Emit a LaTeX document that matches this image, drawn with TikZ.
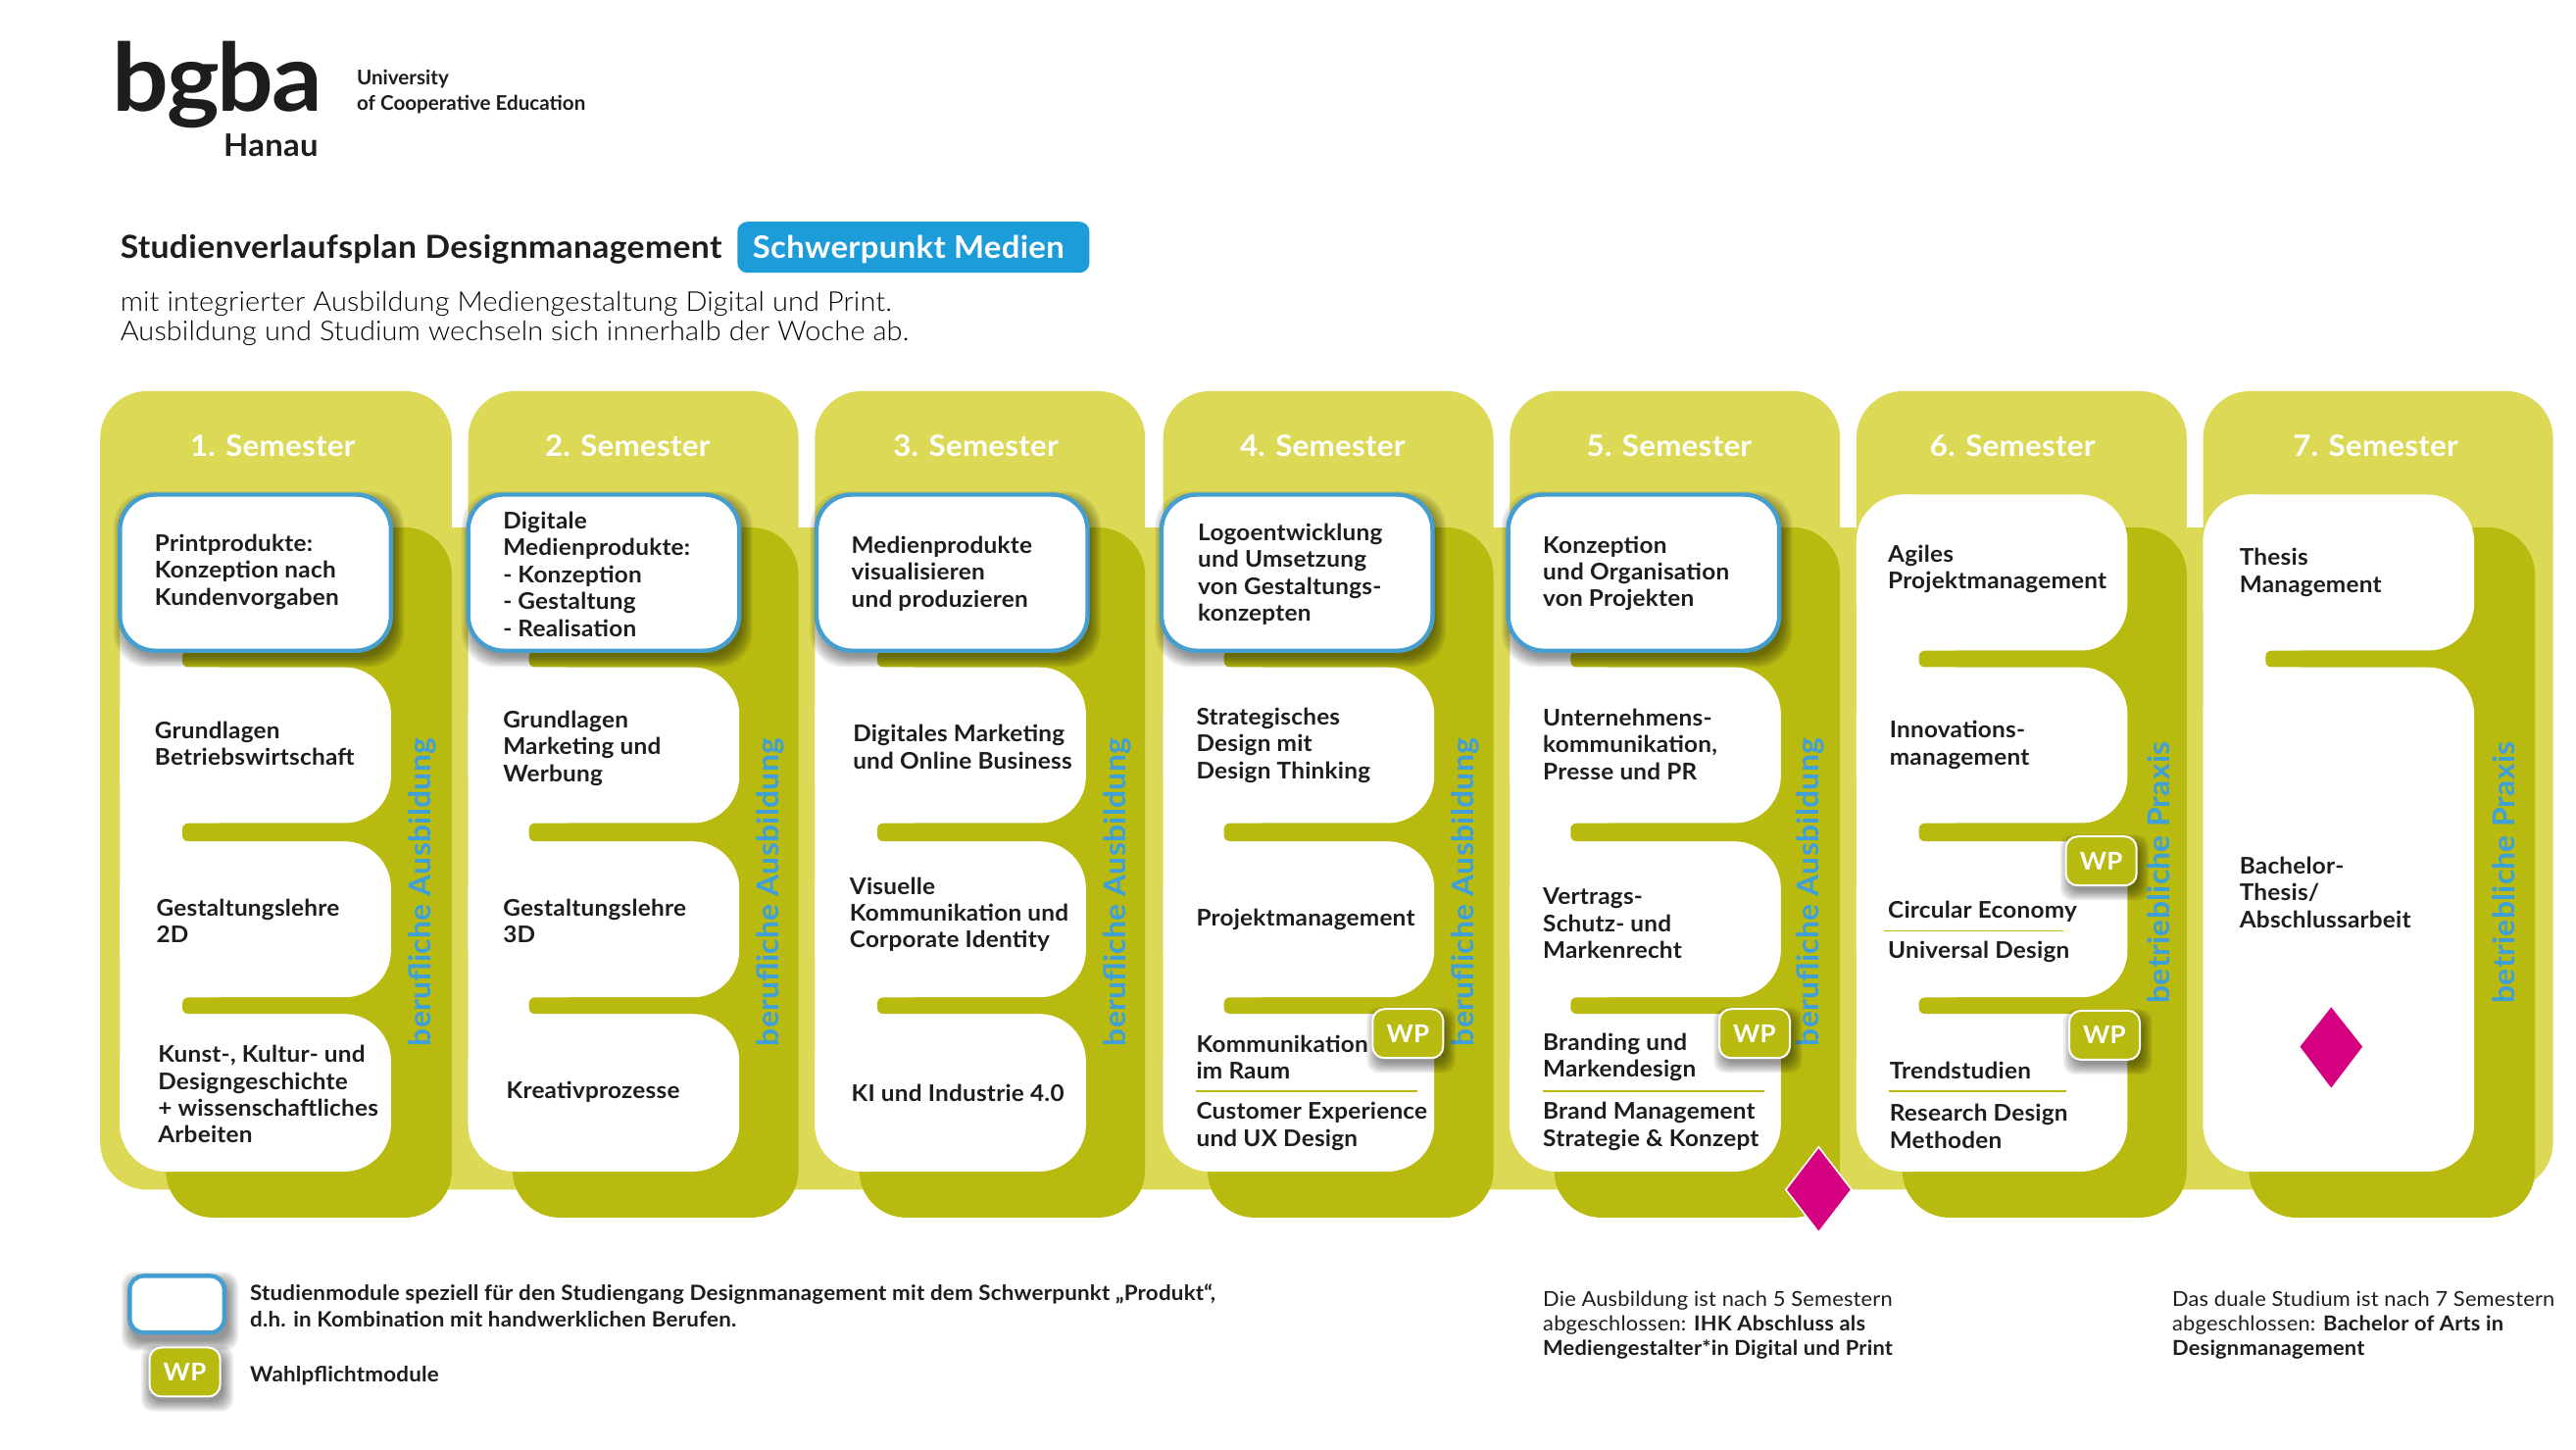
\documentclass[tikz,border=0pt]{standalone}
\usepackage{fontspec}
\setmainfont{Lato}
\newfontfamily\fmed{Lato}[BoldFont={Lato Bold},LetterSpace=1.0,FakeStretch=1.04]
\newfontfamily\flight{Lato Light}[LetterSpace=0.5,FakeStretch=1.04]
\definecolor{lightol}{HTML}{DBD955}
\definecolor{darkol}{HTML}{B9BA10}
\definecolor{blueline}{HTML}{449FD0}
\definecolor{bluetxt}{HTML}{3F9FD9}
\definecolor{pill}{HTML}{1C9DD9}
\definecolor{magen}{HTML}{D5007F}
\definecolor{ink}{HTML}{1D1D1B}
\tikzset{
  x=0.838pt,y=-0.838pt,
  modtext/.style={anchor=west,inner sep=0pt,align=left,text=ink,yshift=-0.4pt,font=\fmed\bfseries\fontsize{11.7}{13.7}\selectfont},
  legtext/.style={anchor=west,inner sep=0pt,align=left,text=ink,yshift=-0.5pt,font=\fmed\bfseries\fontsize{10.75}{13.3}\selectfont},
  notetext/.style={anchor=west,inner sep=0pt,align=left,text=ink,yshift=-1.2pt,font=\fmed\fontsize{10.5}{12.5}\selectfont},
  semtitle/.style={inner sep=0pt,text=white,font=\fmed\bfseries\fontsize{15}{16}\selectfont},
  sidetext/.style={inner sep=0pt,rotate=90,text=bluetxt,font=\fmed\bfseries\fontsize{15.3}{16}\selectfont},
  wpbadge/.style={draw=white,line width=1pt,fill=darkol,rounded corners=6pt,text=white,font=\fmed\bfseries\fontsize{12.5}{12}\selectfont,inner sep=0pt,minimum width=36pt,minimum height=25pt},
  bluebox/.style={fill=white,draw=blueline,line width=2.2pt,rounded corners=18pt},
  diamondm/.style={fill=magen},
  rulel/.style={draw=darkol,line width=0.8pt},
}
\newcommand{\softshadow}[5]{%
  \foreach \e in {6,5,4,3,2,1,0}{%
    \fill[black,opacity=0.07,rounded corners=#5] (#1-\e+2,#2-\e+4) rectangle (#3+\e+2,#4+\e+4);
  }}
\begin{document}
\begin{tikzpicture}
\useasboundingbox (0,0) rectangle (1568,882);
\fill[white] (0,0) rectangle (1568,882);
% logo
\node[inner sep=0pt,anchor=base west,text=ink,font=\bfseries\fontsize{48}{48}\selectfont,xscale=1.06] (logo) at (68,67.6) {\addfontfeature{LetterSpace=-2}bgba};
\node[inner sep=0pt,anchor=base east,text=ink,font=\fmed\bfseries\fontsize{15.8}{16}\selectfont] (hanau) at (194,95) {Hanau};
\node[inner sep=0pt,anchor=west,align=left,text=ink,font=\fontsize{10.3}{12.8}\selectfont\bfseries] (univ) at (217,56) {University\\of Cooperative Education};
% header
\node[inner sep=0pt,anchor=west,text=ink,font=\fmed\bfseries\fontsize{16.2}{18}\selectfont] (title) at (73,152) {Studienverlaufsplan Designmanagement};
\node[inner sep=0pt,fill=pill,rounded corners=5pt,minimum width=179.5pt,minimum height=26pt] (pillnode) at (556,150.5) {};
\node[inner sep=0pt,text=white,font=\fmed\bfseries\fontsize{15.8}{18}\selectfont] (pilltext) at (553,152) {Schwerpunkt Medien};
\node[inner sep=0pt,anchor=west,align=left,text=black,font=\flight\fontsize{13.9}{15.2}\selectfont] (sub) at (73,194) {mit integrierter Ausbildung Mediengestaltung Digital und Print.\\Ausbildung und Studium wechseln sich innerhalb der Woche ab.};
% light band and tabs
\begin{scope}
\clip (0,321) rectangle (1568,882);
\fill[lightol,rounded corners=24pt] (61,260) rectangle (1554,724);
\end{scope}
\foreach \a/\b in {61/275,285/486,496/697,708/909,919/1120,1130/1331,1341/1554}{
  \begin{scope}
  \clip (0,200) rectangle (1568,322);
  \fill[lightol,rounded corners=24pt] (\a,238) rectangle (\b,400);
  \end{scope}
}
% dark panels, cards, bars
\foreach \pl/\pr/\cl/\bl in {101/275/73/111,312/486/285/322,523/697/496/534,735/909/708/745,946/1120/919/956}{
  \fill[darkol,rounded corners=24pt] (\pl,321) rectangle (\pr,741);
  \pgfmathsetmacro{\cr}{\cl+165}
  \foreach \t/\u in {301/396,406/501,512/607,617/713}{
    \fill[white,rounded corners=24pt] (\cl,\t) rectangle (\cr,\u);
  }
  \fill[white,rounded corners=24pt] (\cl,301) rectangle (\cl+60,713);
  \foreach \t/\u in {396/406,501/512,607/617}{
    \fill[darkol,rounded corners=3pt] (\bl,\t) rectangle (\cr+8,\u);
  }
}
\fill[darkol,rounded corners=24pt] (1158,321) rectangle (1331,741);
\foreach \t/\u in {301/396,406/501,512/607,617/713}{
  \fill[white,rounded corners=24pt] (1130,\t) rectangle (1295,\u);
}
\fill[white,rounded corners=24pt] (1130,301) rectangle (1190,713);
\foreach \t/\u in {396/406,501/512,607/617}{
  \fill[darkol,rounded corners=3pt] (1168,\t) rectangle (1303,\u);
}
\fill[darkol,rounded corners=24pt] (1369,321) rectangle (1543,741);
\fill[white,rounded corners=24pt] (1341,301) rectangle (1506,396);
\fill[white,rounded corners=24pt] (1341,406) rectangle (1506,713);
\fill[white,rounded corners=24pt] (1341,301) rectangle (1400,713);
\fill[darkol,rounded corners=3pt] (1379,396) rectangle (1514,406);
% blue cards
\foreach \n/\cl in {1/73,2/285,3/497,4/707,5/918}{
  \pgfmathsetmacro{\cr}{\cl+165}
  \softshadow{\cl}{301}{\cr}{396}{18pt}
  \fill[bluebox] (\cl,301) rectangle (\cr,396);
}
% titles
\node[semtitle] (s1) at (166,271) {1. Semester};
\node[semtitle] (s2) at (382,271) {2. Semester};
\node[semtitle] (s3) at (594,271) {3. Semester};
\node[semtitle] (s4) at (805,271) {4. Semester};
\node[semtitle] (s5) at (1016,271) {5. Semester};
\node[semtitle] (s6) at (1225,271) {6. Semester};
\node[semtitle] (s7) at (1446,271) {7. Semester};
% side labels
\node[sidetext] (v1) at (257,543) {berufliche Ausbildung};
\node[sidetext] (v2) at (469,543) {berufliche Ausbildung};
\node[sidetext] (v3) at (680,543) {berufliche Ausbildung};
\node[sidetext] (v4) at (892,543) {berufliche Ausbildung};
\node[sidetext] (v5) at (1102,543) {berufliche Ausbildung};
\node[sidetext] (v6) at (1314,531) {betriebliche Praxis};
\node[sidetext] (v7) at (1524,531) {betriebliche Praxis};
% module texts
\node[modtext] (a1) at (94,347.5) {Printprodukte:\\Konzeption nach\\Kundenvorgaben};
\node[modtext] (a2) at (94,452) {Grundlagen\\Betriebswirtschaft};
\node[modtext] (a3) at (95,560) {Gestaltungslehre\\2D};
\node[modtext] (a4) at (96,665.5) {Kunst-, Kultur- und\\Designgeschichte\\+ wissenschaftliches\\Arbeiten};
\node[modtext] (b1) at (306,349) {Digitale\\Medienprodukte:\\- Konzeption\\- Gestaltung\\- Realisation};
\node[modtext] (b2) at (306,455) {Grundlagen\\Marketing und\\Werbung};
\node[modtext] (b3) at (306,560) {Gestaltungslehre\\3D};
\node[modtext] (b4) at (308,664) {Kreativprozesse};
\node[modtext] (c1) at (518,348.5) {Medienprodukte\\visualisieren\\und produzieren};
\node[modtext] (c2) at (519,454) {Digitales Marketing\\und Online Business};
\node[modtext] (c3) at (517,556) {Visuelle\\Kommunikation und\\Corporate Identity};
\node[modtext] (c4) at (518,665) {KI und Industrie 4.0};
\node[modtext] (d1) at (729,349) {Logoentwicklung\\und Umsetzung\\von Gestaltungs-\\konzepten};
\node[modtext] (d2) at (728,453) {Strategisches\\Design mit\\Design Thinking};
\node[modtext] (d3) at (728,559) {Projektmanagement};
\node[modtext] (d4) at (728,643) {Kommunikation\\im Raum};
\node[modtext] (d5) at (728,685) {Customer Experience\\und UX Design};
\draw[rulel] (728,664) -- (863,664);
\node[modtext] (e1) at (939,348.5) {Konzeption\\und Organisation\\von Projekten};
\node[modtext] (e2) at (939,452.5) {Unternehmens-\\kommunikation,\\Presse und PR};
\node[modtext] (e3) at (939,561.5) {Vertrags-\\Schutz- und\\Markenrecht};
\node[modtext] (e4) at (939,643) {Branding und\\Markendesign};
\node[modtext] (e5) at (939,685) {Brand Management\\Strategie \& Konzept};
\draw[rulel] (939,664) -- (1074,664);
\node[modtext] (f1) at (1149,346) {Agiles\\Projektmanagement};
\node[modtext] (f2) at (1150,453) {Innovations-\\management};
\node[modtext] (f3) at (1149,554) {Circular Economy};
\node[modtext] (f4) at (1149,579) {Universal Design};
\draw[rulel] (1147,566.5) -- (1256,566.5);
\node[modtext] (f5) at (1150,651) {Trendstudien};
\node[modtext] (f6) at (1150,685) {Research Design\\Methoden};
\draw[rulel] (1150,664) -- (1258,664);
\node[modtext] (g1) at (1363,348) {Thesis\\Management};
\node[modtext] (g2) at (1363,542.5) {Bachelor-\\Thesis/\\Abschlussarbeit};
% WP badges
\foreach \n/\x/\y in {1/857/629,2/1068/629,3/1279/524,4/1281/630}{
  \softshadow{\x-21}{\y-14}{\x+21}{\y+14}{6pt}
  \node[wpbadge] (wp\n) at (\x,\y) {WP};
}
% diamonds
\fill[diamondm,draw=white,line width=0.8pt] (1107,698) -- (1127,724) -- (1107,750) -- (1087,724) -- cycle;
\fill[diamondm] (1419,613) -- (1438,637) -- (1419,662) -- (1400,637) -- cycle;
% legend
\softshadow{78}{776}{137}{812}{7pt}
\fill[white,draw=blueline,line width=2.2pt,rounded corners=7pt] (79,776.5) rectangle (136.5,811);
\softshadow{90}{821}{134}{849}{6pt}
\node[wpbadge] (wpl) at (112.5,835) {WP};
\node[legtext] (l1) at (152,794) {Studienmodule speziell für den Studiengang Designmanagement mit dem Schwerpunkt „Produkt“,\\d.h. in Kombination mit handwerklichen Berufen.};
\node[legtext] (l2) at (152,836.5) {Wahlpflichtmodule};
\node[notetext] (n1) at (939,805) {Die Ausbildung ist nach 5 Semestern\\abgeschlossen: {\bfseries IHK Abschluss als}\\{\bfseries Mediengestalter*in Digital und Print}};
\node[notetext] (n2) at (1322,805) {Das duale Studium ist nach 7 Semestern\\abgeschlossen: {\bfseries Bachelor of Arts in}\\{\bfseries Designmanagement}};
\end{tikzpicture}
\end{document}
